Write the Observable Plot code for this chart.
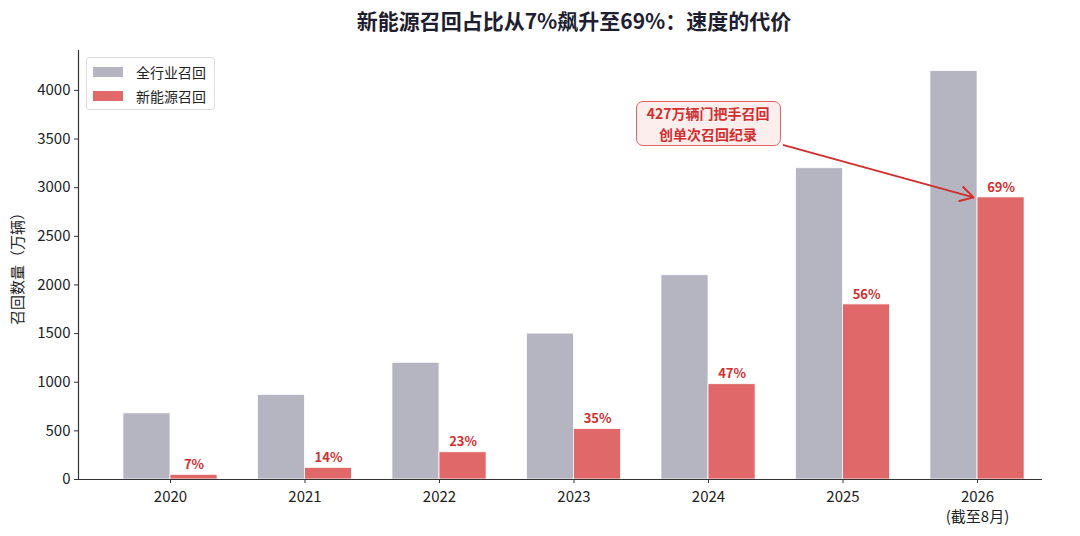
<!DOCTYPE html>
<html><head><meta charset="utf-8">
<script src="https://cdn.jsdelivr.net/npm/d3@7"></script>
<script src="https://cdn.jsdelivr.net/npm/@observablehq/plot@0.6"></script>
<style>
  body{margin:0;background:#fff;font-family:"Noto Sans CJK SC","Noto Sans",sans-serif;}
  #wrap{position:relative;width:1080px;height:536px;}
  #title{height:40px;line-height:40px;text-align:center;font-size:21px;font-weight:700;color:#1e1e30;padding-left:68px;box-sizing:border-box;}
  .legend{position:absolute;left:86px;top:57px;width:129px;height:53px;border:1px solid #dcdcdc;border-radius:3px;background:rgba(255,255,255,.85);box-sizing:border-box;font-size:14px;color:#222;}
  .legend .row{position:absolute;left:6px;height:18px;display:flex;align-items:center;}
  .legend .sw{width:30px;height:10px;margin-right:13px;}
  .anno{position:absolute;width:145px;height:45px;box-sizing:border-box;border:1.5px solid #e06464;border-radius:7px;background:#fdeeee;color:#d22e2e;font-weight:700;font-size:14px;line-height:20.5px;text-align:center;display:flex;align-items:center;justify-content:center;}
</style></head>
<body>
<div id="wrap">
  <div id="title">新能源召回占比从7%飙升至69%：速度的代价</div>
  <div id="chart"></div>
</div>
<script>
const years = ["2020","2021","2022","2023","2024","2025","2026"];
const yearNotes = ["","","","","","","(截至8月)"];
const allRecall = [680, 870, 1200, 1500, 2100, 3200, 4200];
const nevRecall = [48, 120, 280, 520, 980, 1800, 2900];
const nevShare = ["7%","14%","23%","35%","47%","56%","69%"];
const seriesNames = ["全行业召回","新能源召回"];
const seriesColors = ["#b4b5c1","#e06868"];
const annoText = ["427万辆门把手召回","创单次召回纪录"];
const annoAt = {x: 4, y: 3650};
const annoTarget = {x: 5.97, y: 2900};
const yLabel = "召回数量（万辆）";

const barW = 0.35;
const rows = years.map((yr, i) => ({i, yr, all: allRecall[i], nev: nevRecall[i], share: nevShare[i]}));
const xMin = -0.684, xMax = 6.483;

const chart = Plot.plot({
  width: 1080, height: 496,
  marginLeft: 78, marginRight: 38, marginTop: 10, marginBottom: 57,
  style: {fontFamily: '"Noto Sans CJK SC","Noto Sans",sans-serif', fontSize: "14px", color: "#222", background: "#fff"},
  x: {type: "linear", domain: [xMin, xMax]},
  y: {domain: [0, 4410]},
  marks: [
    Plot.rectY(rows, {x1: d => d.i - barW, x2: d => d.i, y1: 0, y2: "all", fill: seriesColors[0], stroke: "#fff", strokeWidth: 0.8, inset: 0}),
    Plot.rectY(rows, {x1: d => d.i, x2: d => d.i + barW, y1: 0, y2: "nev", fill: seriesColors[1], stroke: "#fff", strokeWidth: 0.8, inset: 0}),
    Plot.text(rows, {x: d => d.i + barW / 2, y: d => d.nev + 60, text: "share", lineAnchor: "bottom", fill: "#d22e2e", fontWeight: 700, fontSize: 13}),
    Plot.arrow([0], {x1: () => annoAt.x, y1: () => annoAt.y, x2: () => annoTarget.x, y2: () => annoTarget.y, stroke: "#d22e2e", strokeWidth: 2, headLength: 11, insetStart: 78, insetEnd: 0}),
    Plot.axisX({ticks: years.map((_, i) => i), tickFormat: i => yearNotes[i] ? years[i] + "\n" + yearNotes[i] : years[i], tickSize: 4, tickPadding: 5, lineHeight: 1.3, label: null, fontSize: 15, stroke: "#333"}),
    Plot.axisY({ticks: d3.range(0, 4001, 500), tickFormat: d => String(d), tickSize: 4, tickPadding: 4, label: yLabel, labelAnchor: "center", labelArrow: "none", labelOffset: 66, fontSize: 15, stroke: "#333"}),
    Plot.ruleY([0], {stroke: "#333", strokeWidth: 1.2}),
    Plot.ruleX([xMin], {stroke: "#333", strokeWidth: 1.2})
  ]
});
document.getElementById("chart").appendChild(chart);
chart.querySelectorAll('g[aria-label="y-axis label"] text').forEach(t => t.style.fontSize = "15px");

const wrap = document.getElementById("wrap");
const lg = document.createElement("div");
lg.className = "legend";
seriesNames.forEach((n, k) => {
  const r = document.createElement("div");
  r.className = "row";
  r.style.top = (k === 0 ? 5 : 29) + "px";
  r.innerHTML = `<span class="sw" style="background:${seriesColors[k]}"></span><span>${n}</span>`;
  lg.appendChild(r);
});
wrap.appendChild(lg);
const sx = chart.scale("x"), sy = chart.scale("y");
const cx = sx.apply(annoAt.x), cy = sy.apply(annoAt.y) + 40;
const box = document.createElement("div");
box.className = "anno";
box.style.left = (cx - 72.5) + "px";
box.style.top = (cy - 22.5) + "px";
box.innerHTML = `<span>${annoText.join("<br>")}</span>`;
wrap.appendChild(box);
</script>
</body></html>
